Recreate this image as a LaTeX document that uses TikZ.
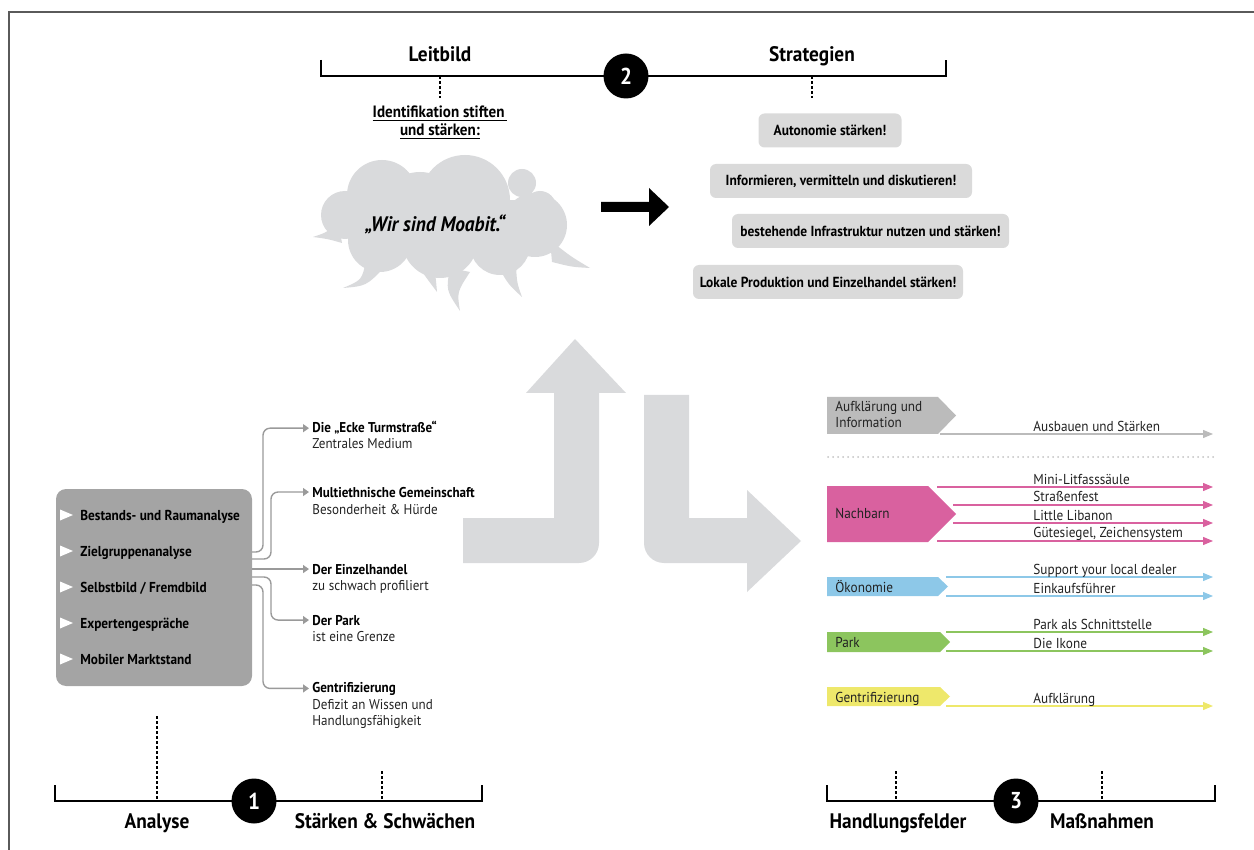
\documentclass[tikz,border=0pt]{standalone}
\usepackage{fontspec}
\setmainfont{PT Sans}[FakeStretch=0.92]
\usetikzlibrary{arrows.meta,positioning}
\definecolor{lightgr}{HTML}{D9DADC}
\definecolor{boxgr}{HTML}{A4A4A4}
\definecolor{stratgr}{HTML}{DADADA}
\definecolor{linegr}{HTML}{9A9A9A}
\definecolor{framegr}{HTML}{5A5A5A}
\definecolor{tagpink}{HTML}{D9619F}
\definecolor{tagblue}{HTML}{8DC8E8}
\definecolor{taggreen}{HTML}{8CC55E}
\definecolor{tagyellow}{HTML}{EEE86B}
\definecolor{taggray}{HTML}{BBBBBB}
\definecolor{txt}{HTML}{222222}
\tikzset{
  heading/.style={font=\bfseries\fontsize{10.5}{12}\selectfont, inner sep=0pt, anchor=base},
  numcirc/.style={circle, fill=black, text=white, minimum size=22.5pt, inner sep=0pt,
    font=\bfseries\fontsize{11.5}{12}\selectfont},
  scalebar/.style={line width=0.8pt},
  tickdash/.style={line width=0.6pt, dash pattern=on 1.5pt off 1pt},
  strat/.style={rounded corners=3pt, fill=stratgr, minimum height=17pt, inner sep=0pt,
    font=\bfseries\fontsize{7.3}{8}\selectfont},
  item/.style={anchor=base west, inner sep=0pt, font=\bfseries\fontsize{7.2}{8}\selectfont},
  ctitle/.style={anchor=base west, inner xsep=1.5pt, inner ysep=0pt, font=\bfseries\fontsize{7.1}{8}\selectfont},
  csub/.style={anchor=base west, inner xsep=1.5pt, inner ysep=0pt, text=txt, font=\fontsize{7.1}{8}\selectfont},
  conn/.style={draw=linegr, line width=0.7pt, rounded corners=3.5pt, -{Triangle[length=3pt,width=4pt]}},
  tagtext/.style={anchor=base west, inner sep=0pt, text=txt, font=\fontsize{7.2}{8}\selectfont},
  mtext/.style={anchor=base west, inner sep=0pt, text=txt, font=\fontsize{7.2}{8}\selectfont},
  massn/.style={draw=#1, line width=0.6pt, -{Triangle[length=5pt,width=4pt]}},
  motto/.style={font=\bfseries\itshape\fontsize{10.5}{12}\selectfont, inner sep=0pt}
}
\begin{document}
\begin{tikzpicture}[x=0.5pt,y=-0.5pt]
  \useasboundingbox (0,0) rectangle (1254,850);
  % Rahmen
  \draw[framegr, line width=1pt] (9,850) -- (9,12) -- (1254,12);

  % 2: Leitbild / Strategien
  \draw[scalebar] (321,60) -- (321,76) -- (946,76) -- (946,60);
  \draw[tickdash] (440,76) -- (440,98);
  \draw[tickdash] (812,76) -- (812,98);
  \node[numcirc] (num2) at (626,76) {2};
  \node[heading] (leitbild) at (440,62) {Leitbild};
  \node[heading] (strategien) at (812,62) {Strategien};
  \node[anchor=north, inner sep=0pt, align=center, font=\bfseries\fontsize{8.2}{8}\selectfont]
    (ident) at (440,105) {\underline{Identifikation stiften\,}\\\underline{und stärken:}};

  % Wolke
  \fill[lightgr] (360,200) rectangle (540,255);
  \foreach \x/\y/\r in {345/215/12, 382/195/17.5, 465/200/22.5, 522/183/7, 540/207/8,
                        535/225/16, 380/240/16, 440/240/19, 500/245/15, 420/212/20}
    \fill[lightgr] (\x,\y) circle[radius=\r pt];
  \fill[lightgr] (338,220) .. controls (328,232) .. (313,237) .. controls (328,239) .. (342,243) -- cycle;
  \fill[lightgr] (550,240) .. controls (570,256) .. (590,268) .. controls (572,267) .. (552,262) -- cycle;
  \fill[lightgr] (366,260) .. controls (362,280) .. (343,288) .. controls (366,286) .. (384,268) -- cycle;
  \fill[lightgr] (418,266) .. controls (428,280) .. (437,292) .. controls (436,280) .. (434,266) -- cycle;
  \fill[lightgr] (450,268) .. controls (446,290) .. (460,311) .. controls (457,292) .. (470,272) -- cycle;
  \fill[lightgr] (498,266) .. controls (508,284) .. (522,297) .. controls (517,283) .. (516,266) -- cycle;
  \node[motto] (motto) at (435,224) {„Wir sind Moabit.“};

  % schwarzer Pfeil
  \fill (601,202) -- (649,202) -- (649,188) -- (669,207) -- (649,226) -- (649,212) -- (601,212) -- cycle;

  % Strategien
  \node[strat, minimum width=71.5pt] (s1) at (830,130.5) {Autonomie stärken!};
  \node[strat, minimum width=131pt] (s2) at (841,181) {Informieren, vermitteln und diskutieren!};
  \node[strat, minimum width=138.5pt] (s3) at (870.5,231) {bestehende Infrastruktur nutzen und stärken!};
  \node[strat, minimum width=135pt] (s4) at (828,282) {Lokale Produktion und Einzelhandel stärken!};

  % grosse Pfeile
  \fill[lightgr] (463,518) -- (554,518) -- (554,393) -- (526,393) -- (575,339) -- (626,393)
    -- (599,393) -- (599,543) arc (0:90:20) -- (463,563) -- cycle;
  \fill[lightgr] (644,395) -- (689,395) -- (689,518) -- (747,518) -- (747,490) -- (801,541)
    -- (747,592) -- (747,563) -- (664,563) arc (90:180:20) -- cycle;

  % 1: Analyse
  \node[fill=boxgr, rounded corners=5pt, minimum width=98pt, minimum height=98.5pt, inner sep=0pt]
    (analysebox) at (154,587.5) {};
  \foreach \t [count=\i, evaluate=\i as \y using 515+36*(\i-1)] in
      {Bestands- und Raumanalyse, Zielgruppenanalyse, Selbstbild / Fremdbild,
       Expertengespräche, Mobiler Marktstand} {
    \fill[white] (60,\y-5.5) -- (73,\y) -- (60,\y+5.5) -- cycle;
    \node[item] (item\i) at (80,\y+5) {\t};
  }

  \node[ctitle] (t1) at (309,433) {Die „Ecke Turmstraße“};
  \node[csub] (u1) at (309,449) {Zentrales Medium};
  \node[ctitle] (t2) at (309,497) {Multiethnische Gemeinschaft};
  \node[csub] (u2) at (309,514) {Besonderheit \& Hürde};
  \node[ctitle] (t3) at (309,574) {Der Einzelhandel};
  \node[csub] (u3) at (309,590) {zu schwach profiliert};
  \node[ctitle] (t4) at (309,625) {Der Park};
  \node[csub] (u4) at (309,641) {ist eine Grenze};
  \node[ctitle] (t5) at (309,692) {Gentrifizierung};
  \node[csub] (u5) at (309,709) {Defizit an Wissen und};
  \node[csub] (v5) at (309,725) {Handlungsfähigkeit};

  \coordinate (c1) at (252,552);
  \coordinate (c2) at (252,559);
  \coordinate (c4) at (252,577);
  \coordinate (c5) at (252,585);
  \draw[conn] (c1) -| ([xshift=-23pt]t1.west) -- (t1.west);
  \draw[conn] (c2) -| ([xshift=-19pt]t2.west) -- (t2.west);
  \draw[conn] (analysebox.east |- t3.west) -- (t3.west);
  \draw[conn] (c4) -| ([xshift=-19pt]t4.west) -- (t4.west);
  \draw[conn] (c5) -| ([xshift=-23pt]t5.west) -- (t5.west);

  \draw[tickdash] (157,716) -- (157,801);
  \draw[tickdash] (382,771) -- (382,801);
  \draw[scalebar] (55,785) -- (55,801) -- (482,801) -- (482,785);
  \node[numcirc] (num1) at (254,801) {1};
  \node[heading] (analyse) at (157,828) {Analyse};
  \node[heading] (staerken) at (385,828) {Stärken \& Schwächen};

  % 3: Handlungsfelder / Massnahmen
  \fill[taggray] (827,397) -- (938,397) -- (956,415.5) -- (938,434) -- (827,434) -- cycle;
  \fill[tagpink] (827,486) -- (928,486) -- (956,514) -- (928,542) -- (827,542) -- cycle;
  \fill[tagblue] (827,577) -- (938,577) -- (948,586.5) -- (938,596) -- (827,596) -- cycle;
  \fill[taggreen] (827,632) -- (940,632) -- (950,642) -- (940,652) -- (827,652) -- cycle;
  \fill[tagyellow] (827,687) -- (940,687) -- (950,696.5) -- (940,706) -- (827,706) -- cycle;
  \node[tagtext] (aufkl) at (835,412) {Aufklärung und};
  \node[tagtext] (aufkl2) at (835,428) {Information};
  \node[tagtext] (nachbarn) at (835,518) {Nachbarn};
  \node[tagtext] (oekonomie) at (835,592) {Ökonomie};
  \node[tagtext] (park) at (835,647) {Park};
  \node[tagtext] (gentri) at (835,702) {Gentrifizierung};

  \draw[line width=1pt, draw=taggray!90, line cap=round, dash pattern=on 0pt off 2.5pt]
    (828,457) -- (1215,457);

  \foreach \n/\xa/\y/\c/\t in {
      a1/940/434/taggray/Ausbauen und Stärken,
      n1/937/487/tagpink/Mini-Litfasssäule,
      n2/953/505/tagpink/Straßenfest,
      n3/953/523/tagpink/Little Libanon,
      n4/937/541/tagpink/{Gütesiegel, Zeichensystem},
      o1/946/577/tagblue/Support your local dealer,
      o2/946/596/tagblue/Einkaufsführer,
      p1/946/632/taggreen/Park als Schnittstelle,
      p2/946/651/taggreen/Die Ikone,
      g1/946/706/tagyellow/Aufklärung} {
    \coordinate (s\n) at (\xa,\y);
    \coordinate (e\n) at (1213,\y);
    \draw[massn=\c] (s\n) -- (e\n);
    \node[mtext] (m\n) at (1033,\y-3) {\t};
  }

  \draw[tickdash] (896,771) -- (896,801);
  \draw[tickdash] (1102,771) -- (1102,801);
  \draw[scalebar] (827,785) -- (827,801) -- (1215,801) -- (1215,785);
  \node[numcirc] (num3) at (1016,801) {3};
  \node[heading] (handlungsfelder) at (898,828) {Handlungsfelder};
  \node[heading] (massnahmen) at (1102,828) {Maßnahmen};
\end{tikzpicture}
\end{document}
